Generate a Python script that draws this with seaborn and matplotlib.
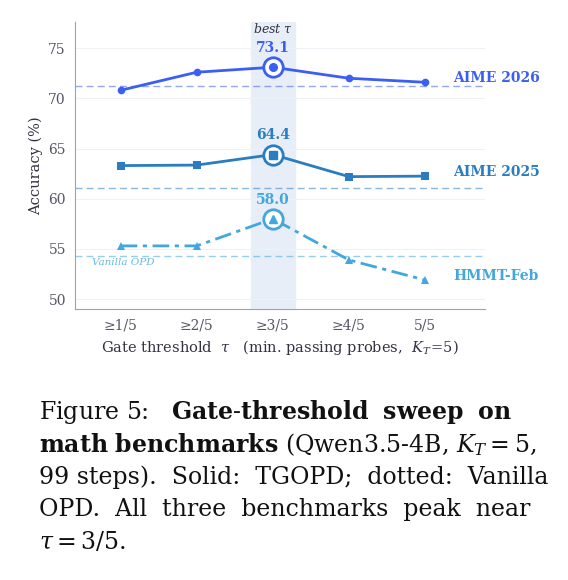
import matplotlib
matplotlib.use("Agg")
import matplotlib.pyplot as plt
import seaborn as sns
import pandas as pd

sns.set_style("white")
plt.rcParams['font.family'] = ['DejaVu Serif']
plt.rcParams['mathtext.fontset'] = 'dejavuserif'

# data
thresholds = ['≥1/5', '≥2/5', '≥3/5', '≥4/5', '5/5']
aime26 = [70.8, 72.6, 73.1, 72.0, 71.6]
aime25 = [63.3, 63.35, 64.4, 62.2, 62.25]
hmmt = [55.3, 55.3, 58.0, 53.9, 51.9]
vanilla = {'AIME 2026': 71.2, 'AIME 2025': 61.1, 'HMMT-Feb': 54.3}
best_idx = 2

series = [
    ('AIME 2026', aime26, '#3b5ef3', 'o', '-'),
    ('AIME 2025', aime25, '#2a7dc1', 's', '-'),
    ('HMMT-Feb', hmmt, '#41a7de', '^', (0, (6, 2, 1.5, 2))),
]

fig = plt.figure(figsize=(5.68, 5.80), dpi=100)
ax = fig.add_axes([0.132, 0.467, 0.722, 0.495])

ax.axvspan(best_idx - 0.29, best_idx + 0.29, color='#e8eef8', zorder=0)
for yv in [50, 55, 60, 65, 70, 75]:
    ax.axhline(yv, color='#eef1f6', lw=0.8, zorder=0)

x = list(range(len(thresholds)))
for name, vals, col, mk, ls in series:
    df = pd.DataFrame({'x': x, 'y': vals})
    sns.lineplot(data=df, x='x', y='y', ax=ax, color=col, marker=mk, markersize=5.5,
                 markeredgewidth=0, linestyle=ls, lw=2, zorder=3)
    ax.axhline(vanilla[name], color=col, alpha=0.55, lw=1, ls=(0, (5, 3)), zorder=1)
    ax.plot(best_idx, vals[best_idx], 'o', ms=14, mfc='white', mec=col, mew=2, zorder=4)
    ax.plot(best_idx, vals[best_idx], mk, ms=5.5, color=col, zorder=5)
    ax.text(best_idx, vals[best_idx] + 1.9, f'{vals[best_idx]:.1f}', color=col,
            ha='center', va='center', fontsize=10, fontweight='bold')
    ax.text(4.37, vals[-1] + 0.4, name, color=col, ha='left', va='center',
            fontsize=10, fontweight='bold', clip_on=False)

ax.text(best_idx, 76.9, r'best $\tau$', ha='center', va='center', fontsize=9,
        style='italic', color='#333344')
ax.text(-0.38, 53.6, 'Vanilla OPD', color='#41a7de', alpha=0.8, fontsize=7.5,
        style='italic', ha='left', va='center')

ax.set_xlim(-0.6, 4.79)
ax.set_ylim(49.0, 77.6)
ax.set_xticks(x)
ax.set_xticklabels(thresholds)
ax.set_yticks([50, 55, 60, 65, 70, 75])
ax.tick_params(colors='#555566', labelsize=10, length=3)
for s in ['top', 'right']:
    ax.spines[s].set_visible(False)
for s in ['left', 'bottom']:
    ax.spines[s].set_color('#9aa3b5')
ax.set_ylabel('Accuracy (%)', color='#333344', fontsize=10.5)
ax.set_xlabel(r'Gate threshold  $\tau$   (min. passing probes,  $K_T\!=\!5$)',
              color='#333344', fontsize=10.5)

# caption
cap = [
    (r'Figure 5:   $\mathbf{Gate\text{-}threshold\ \ sweep\ \ on}$', 0.290),
    (r'$\mathbf{math\ benchmarks}$ (Qwen3.5-4B, $K_T=5$,', 0.234),
    ('99 steps).  Solid:  TGOPD;  dotted:  Vanilla', 0.178),
    ('OPD.  All  three  benchmarks  peak  near', 0.122),
    (r'$\tau = 3/5$.', 0.066),
]
for txt, yy in cap:
    fig.text(0.068, yy, txt, fontsize=17, ha='left', va='center', color='#111111')

fig.savefig('out.png', dpi=100)
